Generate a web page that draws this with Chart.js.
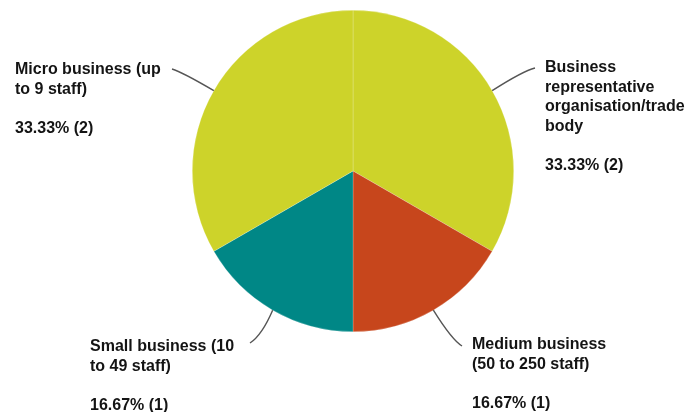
<!DOCTYPE html>
<html>
<head>
<meta charset="utf-8">
<script src="https://cdn.jsdelivr.net/npm/chart.js@4/dist/chart.umd.min.js"></script>
<style>
html,body{margin:0;padding:0;background:#fff;}
#wrap{width:691px;height:412px;position:relative;}
</style>
</head>
<body>
<div id="wrap"><canvas id="c" width="691" height="412"></canvas></div>
<script>
// Categories (each as wrapped lines), values and colours
const categories = [
  ["Business", "representative", "organisation/trade", "body"],
  ["Medium business", "(50 to 250 staff)"],
  ["Small business (10", "to 49 staff)"],
  ["Micro business (up", "to 9 staff)"]
];
const counts = [2, 1, 1, 2];
const sliceColors = ["#CDD32A", "#C7461C", "#008786", "#CDD32A"];

// label layout relative to pie centre: text left x, first-line y, elbow point, line end
const labelLayout = [
  {tx: 192, ty: -103, ex: 170, ey: -100, lx: 182, ly: -103},
  {tx: 119, ty: 174, ex: 99, ey: 169, lx: 109, ly: 175},
  {tx: -263, ty: 176, ex: -91, ey: 164, lx: -103, ly: 172},
  {tx: -338, ty: -101, ex: -171, ey: -99, lx: -181, ly: -102}
];

const labelPlugin = {
  id: 'sliceLabels',
  afterDraw(chart) {
    const ctx = chart.ctx;
    const meta = chart.getDatasetMeta(0);
    const total = counts.reduce((a, b) => a + b, 0);
    ctx.save();
    meta.data.forEach((arc, i) => {
      const p = arc.getProps(['x', 'y', 'startAngle', 'endAngle', 'outerRadius'], true);
      const mid = (p.startAngle + p.endAngle) / 2;
      const ax = p.x + Math.cos(mid) * p.outerRadius;
      const ay = p.y + Math.sin(mid) * p.outerRadius;
      const L = labelLayout[i];
      ctx.strokeStyle = '#555555';
      ctx.lineWidth = 1.4;
      ctx.beginPath();
      ctx.moveTo(ax, ay);
      ctx.quadraticCurveTo(p.x + L.ex, p.y + L.ey, p.x + L.lx, p.y + L.ly);
      ctx.stroke();
      ctx.fillStyle = '#141414';
      ctx.font = 'bold 16px "Liberation Sans", Arial, sans-serif';
      ctx.textAlign = 'left';
      ctx.textBaseline = 'middle';
      const lh = 19.5;
      const lines = categories[i];
      lines.forEach((t, k) => ctx.fillText(t, p.x + L.tx, p.y + L.ty + k * lh));
      const pct = (counts[i] / total * 100).toFixed(2) + '% (' + counts[i] + ')';
      ctx.fillText(pct, p.x + L.tx, p.y + L.ty + (lines.length + 1) * lh);
    });
    ctx.restore();
  }
};

new Chart(document.getElementById('c'), {
  type: 'pie',
  data: {
    labels: categories.map(c => c.join(' ')),
    datasets: [{
      data: counts,
      backgroundColor: sliceColors,
      borderWidth: 0.6,
      borderColor: 'rgba(255,255,255,0.35)',
      hoverOffset: 0,
      offset: 0
    }]
  },
  options: {
    responsive: false,
    animation: false,
    events: [],
    layout: {padding: {top: 10, bottom: 80, left: 15, right: 0}},
    plugins: {legend: {display: false}, tooltip: {enabled: false}}
  },
  plugins: [labelPlugin]
});
</script>
</body>
</html>
